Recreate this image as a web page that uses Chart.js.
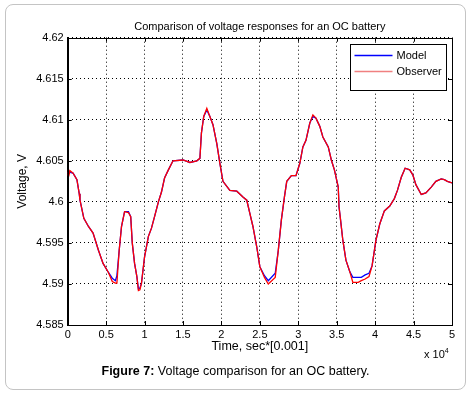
<!DOCTYPE html>
<html>
<head>
<meta charset="utf-8">
<script src="https://cdn.jsdelivr.net/npm/chart.js@4/dist/chart.umd.min.js"></script>
<style>
  body { margin: 0; background: #fff; font-family: "Liberation Sans", Arial, sans-serif; }
  #wrap { position: relative; width: 474px; height: 395px; }
  #frame { position: absolute; left: 5px; top: 4px; width: 461px; height: 386px;
           box-sizing: border-box; border: 1px solid #c4c4c4; border-radius: 8px; }
  #myChart { position: absolute; left: 0; top: 0; }
  #exp { position: absolute; left: 424px; top: 347px; font-size: 11px; color: #000; }
  #exp sup { font-size: 7px; vertical-align: 5px; }
  #caption { position: absolute; left: 0; width: 471px; top: 364px; text-align: center;
             font-size: 12.5px; color: #000; }
</style>
</head>
<body>
<div id="wrap">
  <div id="frame"></div>
  <canvas id="myChart" width="474" height="395"></canvas>
  <div id="exp">x 10<sup>4</sup></div>
  <div id="caption"><b>Figure 7:</b> Voltage comparison for an OC battery.</div>
</div>
<script>
// time in units of 10^4 * 0.001 s
var time = [0, 0.01, 0.02, 0.03, 0.07, 0.12, 0.15, 0.16, 0.21, 0.27, 0.33, 0.40, 0.46, 0.53, 0.58, 0.62, 0.64,
  0.67, 0.70, 0.74, 0.79, 0.82, 0.84, 0.87, 0.90, 0.92, 0.94, 0.96, 1.00, 1.05, 1.09, 1.13, 1.18, 1.22, 1.26,
  1.31, 1.37, 1.50, 1.59, 1.68, 1.72, 1.74, 1.77, 1.81, 1.85, 1.89, 1.94, 1.98, 2.02, 2.11, 2.20, 2.28, 2.33,
  2.37, 2.41, 2.46, 2.50, 2.56, 2.61, 2.70, 2.74, 2.78, 2.82, 2.85, 2.91, 2.97, 3.02, 3.06, 3.10, 3.15, 3.19,
  3.23, 3.28, 3.32, 3.39, 3.43, 3.47, 3.52, 3.53, 3.55, 3.58, 3.62, 3.67, 3.71, 3.78, 3.82, 3.87, 3.92, 3.96,
  4.01, 4.06, 4.12, 4.19, 4.25, 4.29, 4.34, 4.39, 4.45, 4.49, 4.53, 4.60, 4.66, 4.73, 4.79, 4.86, 4.90, 4.94, 5.00];

var modelV = [4.6035, 4.6036, 4.6036, 4.6036, 4.6035, 4.6027, 4.6010, 4.6002, 4.5980, 4.5970, 4.5962, 4.5941, 4.5925, 4.5914, 4.5907, 4.5904, 4.5910,
  4.5941, 4.5970, 4.5988, 4.5988, 4.5982, 4.5950, 4.5925, 4.5909, 4.5894, 4.5895, 4.5901, 4.5933, 4.5958, 4.5968, 4.5982, 4.6000, 4.6012, 4.6029,
  4.6039, 4.6050, 4.6051, 4.6048, 4.6050, 4.6053, 4.6084, 4.6104, 4.6112, 4.6104, 4.6094, 4.6071, 4.6047, 4.6025, 4.6014, 4.6013, 4.6006, 4.6002,
  4.5986, 4.5970, 4.5945, 4.5921, 4.5910, 4.5904, 4.5913, 4.5941, 4.5978, 4.6006, 4.6025, 4.6032, 4.6032, 4.6047, 4.6067, 4.6075, 4.6096, 4.6104,
  4.6102, 4.6092, 4.6079, 4.6067, 4.6051, 4.6039, 4.6018, 4.5994, 4.5978, 4.5953, 4.5929, 4.5915, 4.5908, 4.5908, 4.5908, 4.5911, 4.5913, 4.5922,
  4.5953, 4.5973, 4.5989, 4.5995, 4.6004, 4.6014, 4.6030, 4.6041, 4.6039, 4.6033, 4.6021, 4.6009, 4.6011, 4.6018, 4.6025, 4.6028, 4.6027, 4.6025, 4.6023];

var observerV = [4.6032, 4.6039, 4.6034, 4.6038, 4.6035, 4.6027, 4.6010, 4.6002, 4.5980, 4.5970, 4.5962, 4.5941, 4.5925, 4.5914, 4.5903, 4.5901, 4.5901,
  4.5941, 4.5970, 4.5988, 4.5987, 4.5982, 4.5950, 4.5925, 4.5909, 4.5892, 4.5893, 4.5901, 4.5933, 4.5958, 4.5968, 4.5982, 4.6000, 4.6012, 4.6029,
  4.6039, 4.6050, 4.6051, 4.6048, 4.6050, 4.6053, 4.6084, 4.6104, 4.6114, 4.6104, 4.6094, 4.6071, 4.6047, 4.6025, 4.6014, 4.6013, 4.6006, 4.6002,
  4.5986, 4.5970, 4.5945, 4.5921, 4.5908, 4.5900, 4.5908, 4.5941, 4.5978, 4.6006, 4.6025, 4.6032, 4.6032, 4.6047, 4.6067, 4.6075, 4.6096, 4.6106,
  4.6102, 4.6092, 4.6079, 4.6067, 4.6051, 4.6039, 4.6018, 4.5994, 4.5978, 4.5953, 4.5929, 4.5915, 4.5902, 4.5902, 4.5904, 4.5906, 4.5909, 4.5922,
  4.5953, 4.5973, 4.5989, 4.5995, 4.6004, 4.6014, 4.6030, 4.6041, 4.6039, 4.6033, 4.6021, 4.6009, 4.6011, 4.6018, 4.6025, 4.6028, 4.6027, 4.6025, 4.6023];

var seriesNames = ['Model', 'Observer'];
var xTicks = [0, 5, 0.5];          // min, max, step
var yTicks = [4.585, 4.62, 0.005]; // min, max, step

function toPoints(ys) {
  return time.map(function (t, i) { return { x: t, y: ys[i] }; });
}

// frame around the plot, inward tick marks (matlab style) and the boxed legend
var matlabAxes = {
  id: 'matlabAxes',
  afterDraw: function (chart) {
    var ctx = chart.ctx, a = chart.chartArea;
    var xs = chart.scales.x, ys = chart.scales.y;
    ctx.save();
    ctx.strokeStyle = '#000';
    ctx.lineWidth = 1;
    ctx.strokeRect(Math.round(a.left) + 0.5, Math.round(a.top) + 0.5,
      Math.round(a.right - a.left), Math.round(a.bottom - a.top));
    ctx.beginPath();
    xs.ticks.forEach(function (t) {
      var p = Math.round(xs.getPixelForValue(t.value)) + 0.5;
      ctx.moveTo(p, a.bottom); ctx.lineTo(p, a.bottom - 4);
      ctx.moveTo(p, a.top); ctx.lineTo(p, a.top + 4);
    });
    ys.ticks.forEach(function (t) {
      var p = Math.round(ys.getPixelForValue(t.value)) + 0.5;
      ctx.moveTo(a.left, p); ctx.lineTo(a.left + 4, p);
      ctx.moveTo(a.right, p); ctx.lineTo(a.right - 4, p);
    });
    ctx.stroke();

    // legend box
    var w = 96, h = 46;
    var lx = Math.round(a.right - 6 - w) + 0.5, ly = Math.round(a.top + 6) + 0.5;
    ctx.fillStyle = '#fff';
    ctx.fillRect(lx, ly, w, h);
    ctx.strokeRect(lx, ly, w, h);
    ctx.font = '11px "Liberation Sans", Arial, sans-serif';
    ctx.textBaseline = 'middle';
    [0, 1].forEach(function (i) {
      var ds = chart.data.datasets[i];
      var yy = ly + 10 + i * 16;
      ctx.beginPath();
      ctx.strokeStyle = i === 0 ? ds.borderColor : '#f08080';
      ctx.lineWidth = 1.3;
      ctx.moveTo(lx + 4, Math.round(yy) + 0.5);
      ctx.lineTo(lx + 42, Math.round(yy) + 0.5);
      ctx.stroke();
      ctx.fillStyle = '#000';
      ctx.fillText(ds.label, lx + 46, yy + 1);
    });
    ctx.restore();
  }
};

var ctx = document.getElementById('myChart').getContext('2d');
var myChart = new Chart(ctx, {
  type: 'line',
  data: {
    datasets: [{
      label: seriesNames[0],
      data: toPoints(modelV),
      borderColor: '#0000ff',
      borderWidth: 1.3,
      pointRadius: 0,
      tension: 0,
      order: 1
    }, {
      label: seriesNames[1],
      data: toPoints(observerV),
      borderColor: '#ff0000',
      borderWidth: 1.3,
      pointRadius: 0,
      tension: 0,
      order: 0
    }]
  },
  options: {
    responsive: false,
    animation: false,
    devicePixelRatio: 1,
    layout: { padding: { left: 11, right: 22, top: 0, bottom: 37 } },
    plugins: {
      legend: { display: false },
      tooltip: { enabled: false },
      title: {
        display: true,
        text: 'Comparison of voltage responses for an OC battery',
        fullSize: false,
        color: '#000',
        font: { family: '"Liberation Sans", Arial, sans-serif', size: 11, weight: 'normal', lineHeight: 1.2 },
        padding: { top: 20.5, bottom: 4 }
      }
    },
    scales: {
      x: {
        type: 'linear',
        min: xTicks[0],
        max: xTicks[1],
        afterFit: function (scale) { scale.height = 33; },
        ticks: {
          stepSize: xTicks[2],
          color: '#000',
          padding: 3,
          maxRotation: 0,
          font: { family: '"Liberation Sans", Arial, sans-serif', size: 11 },
          callback: function (v) { return String(parseFloat(Number(v).toFixed(2))); }
        },
        grid: { color: '#000', lineWidth: 1, drawTicks: false },
        border: { display: true, color: '#000', width: 1, dash: [1, 3] },
        title: {
          display: true,
          text: 'Time, sec*[0.001]',
          color: '#000',
          padding: { top: 4, bottom: 4 },
          font: { family: '"Liberation Sans", Arial, sans-serif', size: 12.5, lineHeight: 1.2 }
        }
      },
      y: {
        min: yTicks[0],
        max: yTicks[1],
        afterFit: function (scale) { scale.width = 56.7; },
        ticks: {
          stepSize: yTicks[2],
          color: '#000',
          padding: 4,
          font: { family: '"Liberation Sans", Arial, sans-serif', size: 11 },
          callback: function (v) { return String(parseFloat(Number(v).toFixed(3))); }
        },
        grid: { color: '#000', lineWidth: 1, drawTicks: false },
        border: { display: true, color: '#000', width: 1, dash: [1, 3] },
        title: {
          display: true,
          text: 'Voltage, V',
          color: '#000',
          padding: { top: 4, bottom: 4 },
          font: { family: '"Liberation Sans", Arial, sans-serif', size: 12, lineHeight: 1.2 }
        }
      }
    }
  },
  plugins: [matlabAxes]
});
</script>
</body>
</html>
